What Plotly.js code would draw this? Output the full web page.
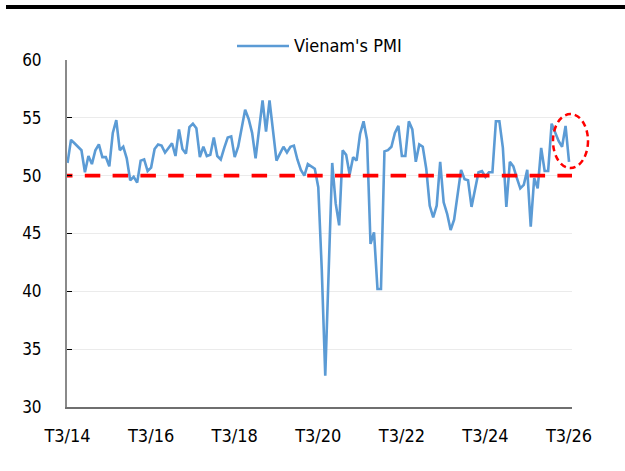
<!DOCTYPE html>
<html>
<head>
<meta charset="utf-8">
<script src="https://cdn.plot.ly/plotly-3.0.1.min.js"></script>
<style>
  html, body { margin: 0; padding: 0; background: #fff; }
  #chart { width: 625px; height: 471px; }
</style>
</head>
<body>
<div id="chart"></div>
<script>
// Monthly Vietnam manufacturing PMI, T3/2014 .. T3/2026
const seriesName = "Vienam's PMI";
const pmi = [
  51.1, 53.1, 52.8, 52.5, 52.2, 50.3, 51.7, 51.0, 52.2, 52.7,
  51.6, 51.6, 50.8, 53.7, 54.8, 52.2, 52.5, 51.5, 49.6, 49.9,
  49.4, 51.3, 51.4, 50.4, 50.7,
  52.3, 52.7, 52.6, 52.0, 52.4, 52.8, 51.7, 54.0, 52.3, 51.9,
  54.2, 54.5, 54.1, 51.6, 52.5, 51.7, 51.8, 53.3, 51.7, 51.4,
  52.4, 53.3, 53.4, 51.6, 52.5, 54.0, 55.7, 54.9, 53.7, 51.5,
  53.9, 56.5, 53.8, 56.5, 53.9, 51.3, 51.9, 52.5, 52.0, 52.5,
  52.6, 51.4, 50.5, 50.0, 51.0, 50.8, 50.6, 49.0, 41.9, 32.7,
  42.7, 51.1, 47.6, 45.7, 52.2, 51.8, 50.1, 51.6, 51.3, 53.6,
  54.7, 53.1, 44.1, 45.1, 40.2, 40.2, 52.1, 52.2, 52.5, 53.7,
  54.3, 51.7, 51.7, 54.7, 54.0, 51.2, 52.7, 52.5, 50.6, 47.4,
  46.4, 47.4, 51.2, 47.7, 46.7, 45.3, 46.2, 48.4, 50.5, 49.7,
  49.6, 47.3, 48.9, 50.3, 50.4, 49.9, 50.3, 50.3, 54.7, 54.7,
  52.4, 47.3, 51.2, 50.8, 49.8, 48.9, 49.2, 50.5, 45.6, 49.8,
  48.9, 52.4, 50.4, 50.4, 54.5, 53.8, 53.0, 52.5, 54.3, 51.2
];
const tickLabels = ['T3/14', 'T3/16', 'T3/18', 'T3/20', 'T3/22', 'T3/24', 'T3/26'];
const tickStep = 24;          // months between labels
const threshold = 50;         // expansion / contraction line

const monthIdx = pmi.map((_, i) => i);
const tickVals = tickLabels.map((_, k) => k * tickStep);
const xRange = [-0.15, pmi.length - 0.15];

// dash pattern for the 50-line (phase-shifted first dash)
const dashParts = ['5.5px', '12.3px'];
for (let k = 0; k < 22; k++) { dashParts.push('15.5px', '12.3px'); }

const FONT = "'DejaVu Sans Condensed', 'DejaVu Sans', sans-serif";

const traces = [
  {
    x: monthIdx, y: pmi, type: 'scatter', mode: 'lines', name: seriesName,
    line: { color: '#5b9bd5', width: 2.6 }, hoverinfo: 'skip'
  },
  {
    x: xRange, y: xRange.map(() => threshold), type: 'scatter', mode: 'lines',
    line: { color: '#ff0000', width: 3.6, dash: dashParts.join(',') }, hoverinfo: 'skip'
  }
];

// plot area in pixels: x 67..572, y 60..407
const L = 67, R = 572, T = 60, B = 407, W = 625, H = 471;
const px = (x) => (x - L) / (R - L);
const py = (y) => (B - y) / (B - T);

const layout = {
  width: W, height: H,
  margin: { l: L, r: W - R, t: T, b: H - B, pad: 0 },
  paper_bgcolor: '#ffffff', plot_bgcolor: '#ffffff',
  showlegend: false,
  font: { family: FONT, color: '#000000' },
  xaxis: {
    range: xRange, tickmode: 'array', tickvals: tickVals, ticktext: tickLabels,
    ticks: '', showgrid: false, zeroline: false,
    showline: true, linecolor: '#6f6f6f', linewidth: 1.5,
    tickfont: { family: FONT, size: 18, color: '#000' },
    ticklabelstandoff: 12, fixedrange: true
  },
  yaxis: {
    range: [30, 60], tick0: 30, dtick: 5,
    ticks: 'inside', ticklen: 5, tickwidth: 1, tickcolor: '#000',
    showgrid: true, gridcolor: '#ebebeb', gridwidth: 1, zeroline: false,
    showline: true, linecolor: '#8a8a8a', linewidth: 2,
    tickfont: { family: FONT, size: 17, color: '#000' },
    ticklabelstandoff: 20, fixedrange: true
  },
  shapes: [
    // black rule across the top
    { type: 'rect', xref: 'paper', yref: 'paper',
      x0: px(6), x1: px(625), y0: py(9), y1: py(5),
      fillcolor: '#000', line: { width: 0 }, layer: 'above' },
    // legend sample line
    { type: 'line', xref: 'paper', yref: 'paper',
      x0: px(237), x1: px(289), y0: py(46), y1: py(46),
      line: { color: '#5b9bd5', width: 2.6 } },
    // dashed highlight ellipse around the latest readings
    { type: 'circle', xref: 'paper', yref: 'paper',
      x0: px(553), x1: px(588), y0: py(168), y1: py(114),
      line: { color: '#ff0000', width: 2.5, dash: '6px,4px' }, layer: 'above' }
  ],
  annotations: [
    { xref: 'paper', yref: 'paper', x: px(292), y: py(46),
      xanchor: 'left', yanchor: 'middle', showarrow: false,
      text: seriesName, font: { family: FONT, size: 18, color: '#000' } }
  ]
};

Plotly.newPlot('chart', traces, layout, { staticPlot: true, displayModeBar: false });
</script>
</body>
</html>
